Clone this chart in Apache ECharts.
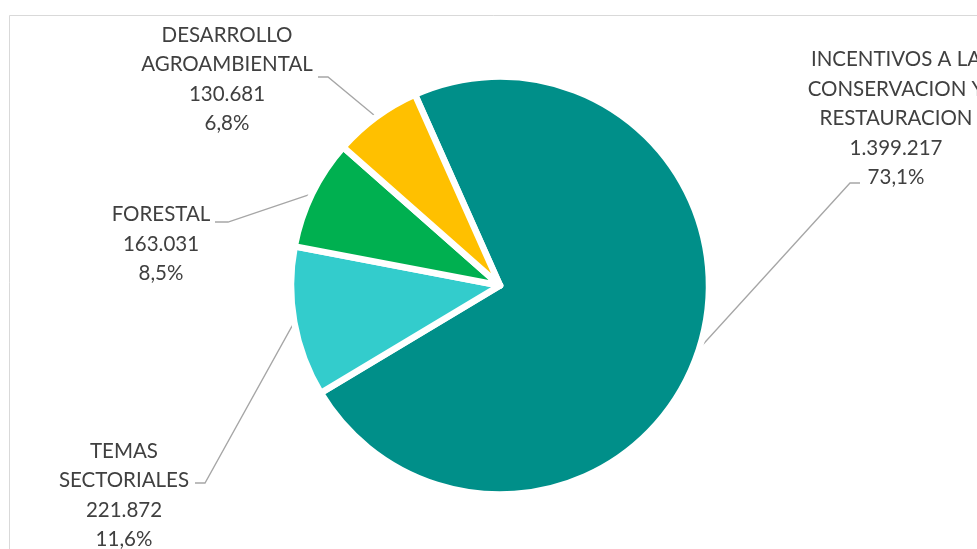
<!DOCTYPE html>
<html><head><meta charset="utf-8">
<script src="https://cdn.jsdelivr.net/npm/echarts@6/dist/echarts.min.js"></script>
<style>html,body{margin:0;padding:0;background:#fff}#c{width:977px;height:549px}</style>
</head><body><div id="c"></div>
<script>
const categories = ['INCENTIVOS A LA\nCONSERVACION Y\nRESTAURACION', 'TEMAS\nSECTORIALES', 'FORESTAL', 'DESARROLLO\nAGROAMBIENTAL'];
const values = [1399217, 221872, 163031, 130681];
const colors = ['#008F89', '#33CCCC', '#00B050', '#FFC000'];

const total = values.reduce((a, b) => a + b, 0);
function fmtNum(v) { return String(v).replace(/\B(?=(\d{3})+(?!\d))/g, '.'); }
function fmtPct(v) { return (v / total * 100).toFixed(1).replace('.', ','); }

// label block centres and leader stubs (layout only)
const labelPos = [
  { x: 896, y: 118.5, stub: [[860, 183], [850, 183]] },
  { x: 124, y: 495.5, stub: [[195, 483], [205, 483]] },
  { x: 161, y: 244, stub: [[215, 222], [228, 222]] },
  { x: 227, y: 79.5, stub: [[318, 77], [328, 77]] }
];

const chart = echarts.init(document.getElementById('c'), null, { renderer: 'canvas' });
chart.setOption({
  animation: false,
  backgroundColor: '#fff',
  graphic: [{
    type: 'rect', silent: true,
    shape: { x: 9.5, y: 15.5, width: 1100, height: 700 },
    style: { fill: null, stroke: '#d9d9d9', lineWidth: 1 }
  }],
  series: [{
    type: 'pie',
    center: [500, 285.5],
    radius: 209,
    startAngle: 114,
    clockwise: true,
    avoidLabelOverlap: false,
    itemStyle: { borderColor: '#fff', borderWidth: 6.5 },
    label: {
      show: true,
      position: 'outside',
      fontFamily: 'Lato',
      fontSize: 20.5,
      lineHeight: 29.5,
      color: '#404040',
      formatter: p => p.name + '\n' + fmtNum(p.value) + '\n' + fmtPct(p.value) + '%'
    },
    labelLine: { show: true, smooth: false, lineStyle: { color: '#a6a6a6', width: 1.3 } },
    labelLayout: function (params) {
      const lp = labelPos[params.dataIndex];
      const pts = params.labelLinePoints;
      const anchor = pts ? pts[0] : [0, 0];
      return {
        x: lp.x, y: lp.y, align: 'center', verticalAlign: 'middle',
        labelLinePoints: [anchor, lp.stub[1], lp.stub[0]]
      };
    },
    emphasis: { disabled: true },
    data: categories.map((c, i) => ({ name: c, value: values[i], itemStyle: { color: colors[i] } }))
  }]
});
</script>
</body></html>
